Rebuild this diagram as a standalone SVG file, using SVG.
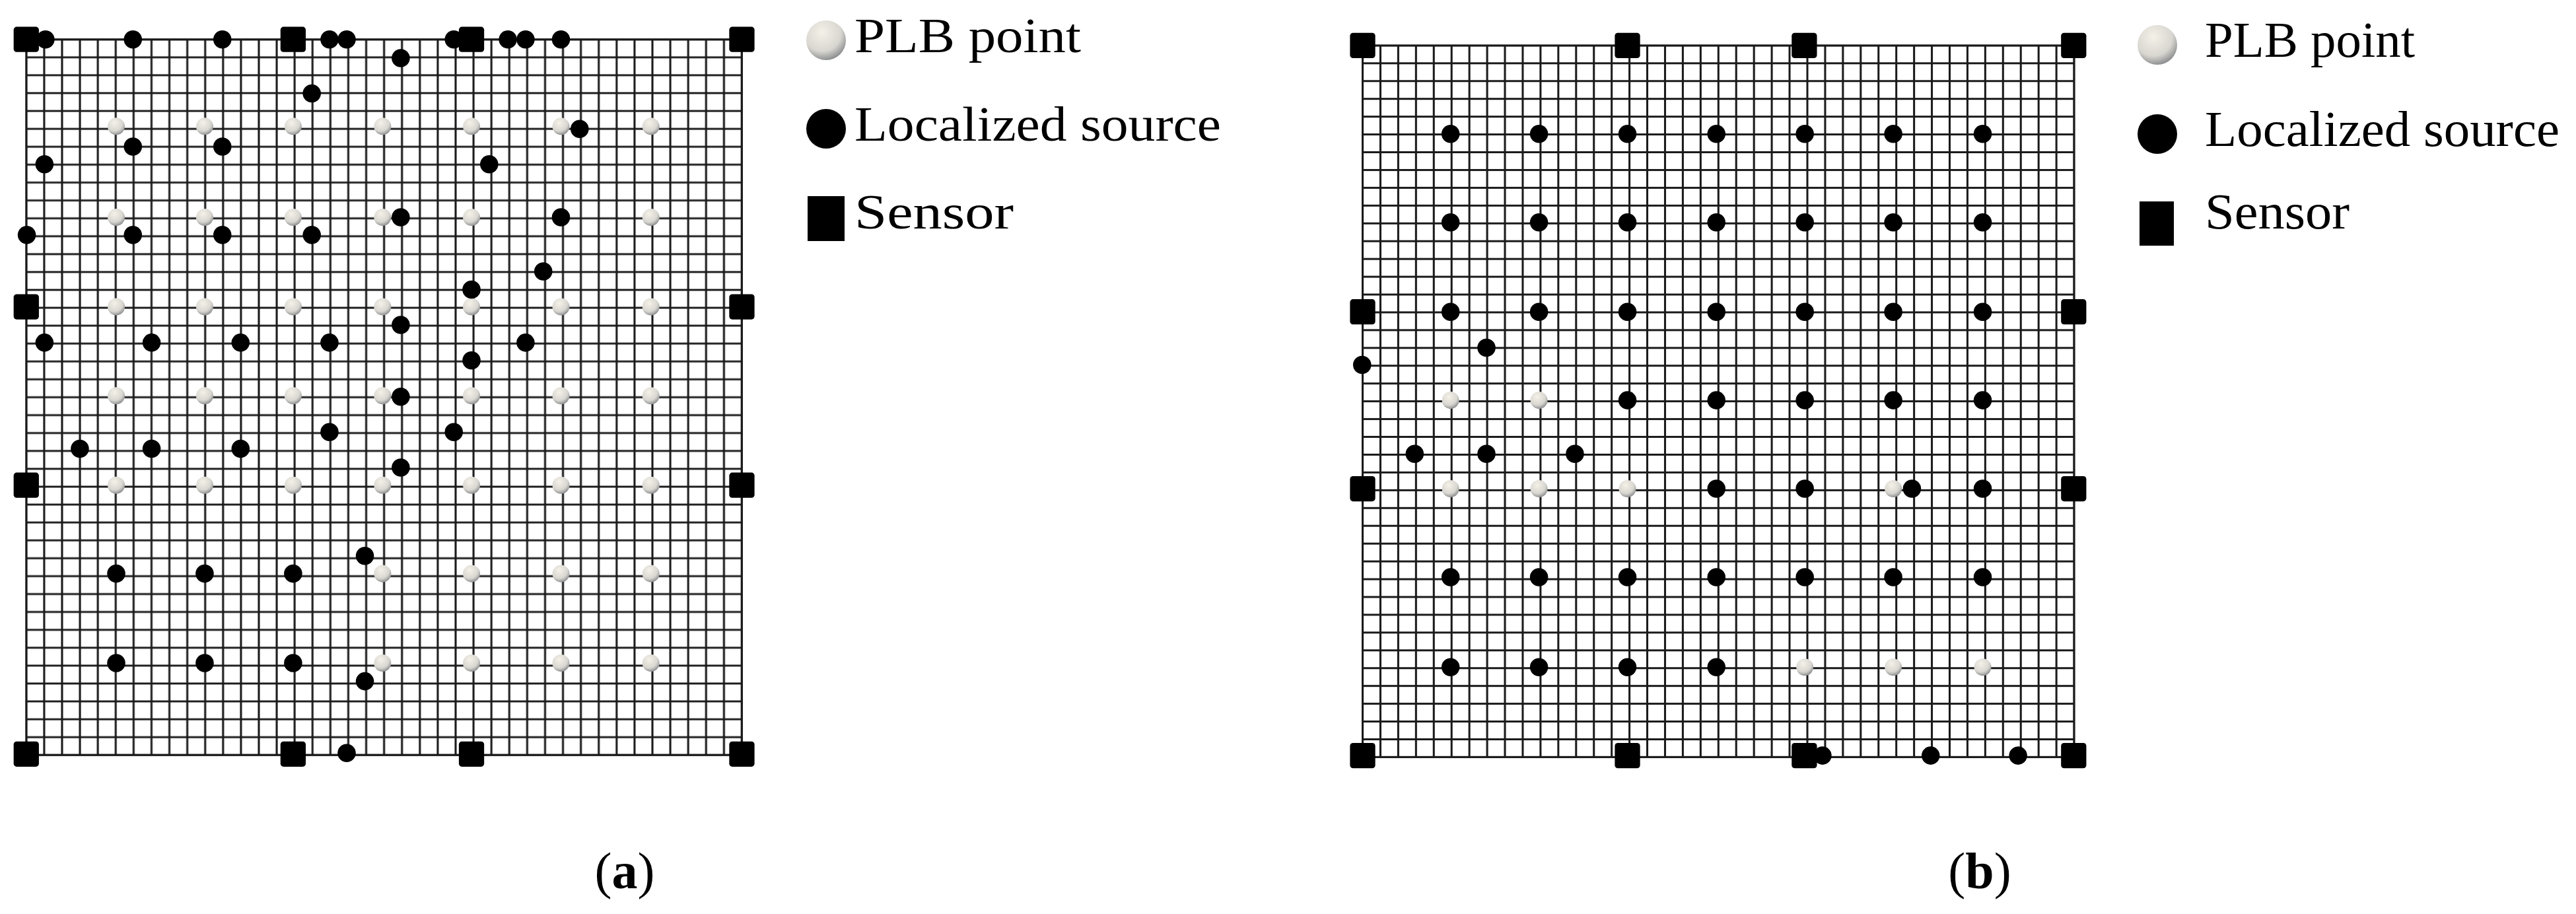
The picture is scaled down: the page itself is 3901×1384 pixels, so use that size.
<svg xmlns="http://www.w3.org/2000/svg" width="3901" height="1384" viewBox="0 0 3901 1384">
<defs>
<radialGradient id="plb" cx="0.4" cy="0.3" r="0.8"><stop offset="0" stop-color="#f4f1e8"/><stop offset="0.6" stop-color="#d8d6d0"/><stop offset="1" stop-color="#707378"/></radialGradient>
<pattern id="ga" patternUnits="userSpaceOnUse" x="34.3" y="60.3" width="35.4" height="35.4"><path d="M0 17.7H35.4M17.7 0V35.4" stroke="#1a1a1a" stroke-width="4"/></pattern>
<pattern id="gb" patternUnits="userSpaceOnUse" x="65.4" y="72.4" width="35.2" height="35.2"><path d="M0 17.6H35.2M17.6 0V35.2" stroke="#1a1a1a" stroke-width="4"/></pattern>
</defs>
<style>
.s{fill:#000}
.b{fill:#000}
.p{fill:url(#plb)}
.t{font-family:"Liberation Serif","DejaVu Serif",serif;fill:#000}
.lab{font-family:"Liberation Serif",serif;font-size:78px}
</style>
<rect width="3901" height="1384" fill="#fff"/>
<g id="panel-a" transform="scale(0.7653)">
<rect x="52" y="78" width="1416" height="1416" fill="url(#ga)" stroke="#1a1a1a" stroke-width="4"/>
<g id="a-plb" class="p">
<circle cx="230" cy="250" r="17"/><circle cx="405" cy="250" r="17"/><circle cx="580" cy="250" r="17"/><circle cx="757" cy="250" r="17"/><circle cx="933" cy="250" r="17"/><circle cx="1110" cy="250" r="17"/><circle cx="1288" cy="250" r="17"/>
<circle cx="230" cy="430" r="17"/><circle cx="405" cy="430" r="17"/><circle cx="580" cy="430" r="17"/><circle cx="757" cy="430" r="17"/><circle cx="933" cy="430" r="17"/><circle cx="1110" cy="430" r="17"/><circle cx="1288" cy="430" r="17"/>
<circle cx="230" cy="607" r="17"/><circle cx="405" cy="607" r="17"/><circle cx="580" cy="607" r="17"/><circle cx="757" cy="607" r="17"/><circle cx="933" cy="607" r="17"/><circle cx="1110" cy="607" r="17"/><circle cx="1288" cy="607" r="17"/>
<circle cx="230" cy="783" r="17"/><circle cx="405" cy="783" r="17"/><circle cx="580" cy="783" r="17"/><circle cx="757" cy="783" r="17"/><circle cx="933" cy="783" r="17"/><circle cx="1110" cy="783" r="17"/><circle cx="1288" cy="783" r="17"/>
<circle cx="230" cy="960" r="17"/><circle cx="405" cy="960" r="17"/><circle cx="580" cy="960" r="17"/><circle cx="757" cy="960" r="17"/><circle cx="933" cy="960" r="17"/><circle cx="1110" cy="960" r="17"/><circle cx="1288" cy="960" r="17"/>
<circle cx="757" cy="1135" r="17"/><circle cx="933" cy="1135" r="17"/><circle cx="1110" cy="1135" r="17"/><circle cx="1288" cy="1135" r="17"/>
<circle cx="757" cy="1312" r="17"/><circle cx="933" cy="1312" r="17"/><circle cx="1110" cy="1312" r="17"/><circle cx="1288" cy="1312" r="17"/>
</g>
<g id="a-src" class="b">
<circle cx="90" cy="78" r="18"/><circle cx="263" cy="78" r="18"/><circle cx="440" cy="78" r="18"/><circle cx="652" cy="78" r="18"/><circle cx="686" cy="78" r="18"/><circle cx="898" cy="78" r="18"/><circle cx="1005" cy="78" r="18"/><circle cx="1040" cy="78" r="18"/><circle cx="1110" cy="78" r="18"/>
<circle cx="793" cy="115" r="18"/><circle cx="617" cy="185" r="18"/><circle cx="1147" cy="255" r="18"/><circle cx="263" cy="290" r="18"/><circle cx="440" cy="290" r="18"/><circle cx="88" cy="325" r="18"/><circle cx="968" cy="325" r="18"/><circle cx="793" cy="430" r="18"/><circle cx="1110" cy="430" r="18"/>
<circle cx="53" cy="465" r="18"/><circle cx="263" cy="465" r="18"/><circle cx="440" cy="465" r="18"/><circle cx="617" cy="465" r="18"/><circle cx="1075" cy="537" r="18"/><circle cx="933" cy="573" r="18"/><circle cx="793" cy="643" r="18"/>
<circle cx="88" cy="678" r="18"/><circle cx="300" cy="678" r="18"/><circle cx="476" cy="678" r="18"/><circle cx="652" cy="678" r="18"/><circle cx="1040" cy="678" r="18"/><circle cx="933" cy="713" r="18"/><circle cx="793" cy="785" r="18"/>
<circle cx="652" cy="855" r="18"/><circle cx="898" cy="855" r="18"/><circle cx="158" cy="888" r="18"/><circle cx="300" cy="888" r="18"/><circle cx="476" cy="888" r="18"/><circle cx="793" cy="925" r="18"/>
<circle cx="722" cy="1100" r="18"/><circle cx="230" cy="1135" r="18"/><circle cx="405" cy="1135" r="18"/><circle cx="580" cy="1135" r="18"/><circle cx="230" cy="1312" r="18"/><circle cx="405" cy="1312" r="18"/><circle cx="580" cy="1312" r="18"/><circle cx="722" cy="1348" r="18"/><circle cx="686" cy="1490" r="18"/>
</g>
<g id="a-sensors" class="s">
<rect x="27" y="53" width="50" height="50" rx="6"/><rect x="555" y="53" width="50" height="50" rx="6"/><rect x="908" y="53" width="50" height="50" rx="6"/><rect x="1443" y="53" width="50" height="50" rx="6"/>
<rect x="27" y="582" width="50" height="50" rx="6"/><rect x="1443" y="582" width="50" height="50" rx="6"/>
<rect x="27" y="935" width="50" height="50" rx="6"/><rect x="1443" y="935" width="50" height="50" rx="6"/>
<rect x="27" y="1467" width="50" height="50" rx="6"/><rect x="555" y="1467" width="50" height="50" rx="6"/><rect x="908" y="1467" width="50" height="50" rx="6"/><rect x="1443" y="1467" width="50" height="50" rx="6"/>
</g>
</g>
<g id="panel-b" transform="translate(2000,0) scale(0.7653)">
<rect x="83" y="90" width="1408" height="1408" fill="url(#gb)" stroke="#1a1a1a" stroke-width="4"/>
<g id="b-plb" class="p">
<circle cx="257" cy="792" r="17"/><circle cx="432" cy="792" r="17"/>
<circle cx="257" cy="967" r="17"/><circle cx="432" cy="967" r="17"/><circle cx="607" cy="967" r="17"/><circle cx="1133" cy="967" r="17"/>
<circle cx="958" cy="1320" r="17"/><circle cx="1133" cy="1320" r="17"/><circle cx="1310" cy="1320" r="17"/>
</g>
<g id="b-src" class="b">
<circle cx="257" cy="265" r="18"/><circle cx="432" cy="265" r="18"/><circle cx="607" cy="265" r="18"/><circle cx="783" cy="265" r="18"/><circle cx="958" cy="265" r="18"/><circle cx="1133" cy="265" r="18"/><circle cx="1310" cy="265" r="18"/>
<circle cx="257" cy="440" r="18"/><circle cx="432" cy="440" r="18"/><circle cx="607" cy="440" r="18"/><circle cx="783" cy="440" r="18"/><circle cx="958" cy="440" r="18"/><circle cx="1133" cy="440" r="18"/><circle cx="1310" cy="440" r="18"/>
<circle cx="257" cy="617" r="18"/><circle cx="432" cy="617" r="18"/><circle cx="607" cy="617" r="18"/><circle cx="783" cy="617" r="18"/><circle cx="958" cy="617" r="18"/><circle cx="1133" cy="617" r="18"/><circle cx="1310" cy="617" r="18"/>
<circle cx="607" cy="792" r="18"/><circle cx="783" cy="792" r="18"/><circle cx="958" cy="792" r="18"/><circle cx="1133" cy="792" r="18"/><circle cx="1310" cy="792" r="18"/>
<circle cx="783" cy="967" r="18"/><circle cx="958" cy="967" r="18"/><circle cx="1170" cy="967" r="18"/><circle cx="1310" cy="967" r="18"/>
<circle cx="257" cy="1142" r="18"/><circle cx="432" cy="1142" r="18"/><circle cx="607" cy="1142" r="18"/><circle cx="783" cy="1142" r="18"/><circle cx="958" cy="1142" r="18"/><circle cx="1133" cy="1142" r="18"/><circle cx="1310" cy="1142" r="18"/>
<circle cx="257" cy="1320" r="18"/><circle cx="432" cy="1320" r="18"/><circle cx="607" cy="1320" r="18"/><circle cx="783" cy="1320" r="18"/>
<circle cx="328" cy="688" r="18"/><circle cx="82" cy="722" r="18"/><circle cx="186" cy="898" r="18"/><circle cx="328" cy="898" r="18"/><circle cx="503" cy="898" r="18"/>
<circle cx="993" cy="1495" r="18"/><circle cx="1207" cy="1495" r="18"/><circle cx="1380" cy="1495" r="18"/>
</g>
<g id="b-sensors" class="s">
<rect x="58" y="65" width="50" height="50" rx="6"/><rect x="582" y="65" width="50" height="50" rx="6"/><rect x="932" y="65" width="50" height="50" rx="6"/><rect x="1465" y="65" width="50" height="50" rx="6"/>
<rect x="58" y="592" width="50" height="50" rx="6"/><rect x="1465" y="592" width="50" height="50" rx="6"/>
<rect x="58" y="942" width="50" height="50" rx="6"/><rect x="1465" y="942" width="50" height="50" rx="6"/>
<rect x="58" y="1470" width="50" height="50" rx="6"/><rect x="582" y="1470" width="50" height="50" rx="6"/><rect x="932" y="1470" width="50" height="50" rx="6"/><rect x="1465" y="1470" width="50" height="50" rx="6"/>
</g>
</g>
<g id="legend-a">
<circle cx="1251" cy="61" r="30" class="p"/>
<text x="1294" y="79" class="t" font-size="74" textLength="343" lengthAdjust="spacingAndGlyphs">PLB point</text>
<circle cx="1251" cy="195" r="30" class="b"/>
<text x="1294" y="213" class="t" font-size="74" textLength="555" lengthAdjust="spacingAndGlyphs">Localized source</text>
<rect x="1223" y="297" width="56" height="68" class="s"/>
<text x="1294" y="346" class="t" font-size="74" textLength="241" lengthAdjust="spacingAndGlyphs">Sensor</text>
</g>
<g id="legend-b">
<circle cx="3267" cy="68" r="30" class="p"/>
<text x="3339" y="86" class="t" font-size="76" textLength="318" lengthAdjust="spacingAndGlyphs">PLB point</text>
<circle cx="3267" cy="203" r="30" class="b"/>
<text x="3339" y="221" class="t" font-size="76" textLength="537" lengthAdjust="spacingAndGlyphs">Localized source</text>
<rect x="3240" y="305" width="52" height="67" class="s"/>
<text x="3339" y="346" class="t" font-size="76" textLength="219" lengthAdjust="spacingAndGlyphs">Sensor</text>
</g>
<text x="946" y="1345" text-anchor="middle" class="t lab">(<tspan font-weight="bold">a</tspan>)</text>
<text x="2998" y="1345" text-anchor="middle" class="t lab">(<tspan font-weight="bold">b</tspan>)</text>
</svg>
